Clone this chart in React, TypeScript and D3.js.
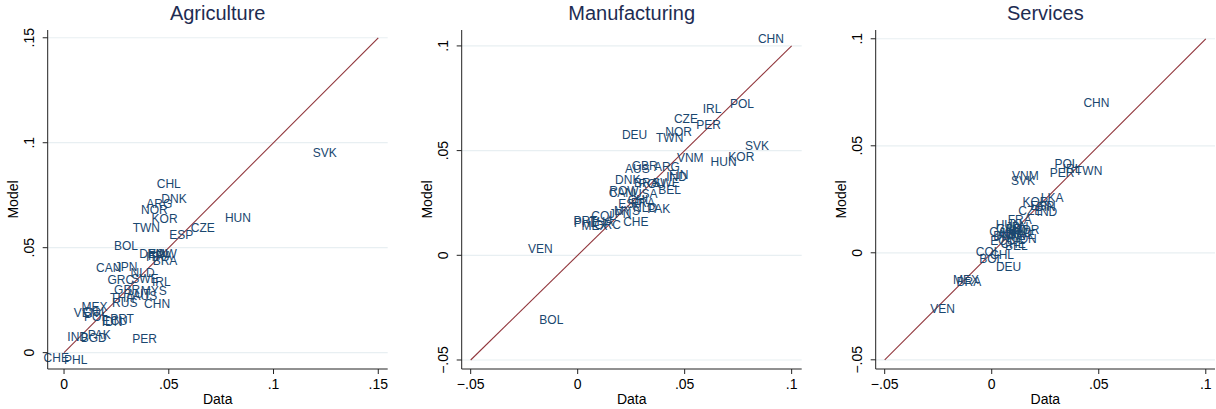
import React from "react";
import * as d3 from "d3";

// [country, data, model]
const agriculture: [string, number, number][] = [
  ["SVK", 0.1244, 0.0952],
  ["CHL", 0.05, 0.0802],
  ["DNK", 0.0525, 0.0733],
  ["ARG", 0.0455, 0.0707],
  ["NOR", 0.0431, 0.068],
  ["KOR", 0.048, 0.0635],
  ["TWN", 0.0393, 0.0595],
  ["HUN", 0.083, 0.0643],
  ["CZE", 0.0662, 0.0594],
  ["ESP", 0.056, 0.0562],
  ["BOL", 0.0296, 0.051],
  ["DEU", 0.042, 0.047],
  ["FIN", 0.0448, 0.0468],
  ["FRA", 0.0458, 0.0462],
  ["ROW", 0.0468, 0.047],
  ["ITA", 0.0434, 0.0455],
  ["BRA", 0.0482, 0.0438],
  ["CAN", 0.0213, 0.0405],
  ["JPN", 0.0296, 0.041],
  ["NLD", 0.0375, 0.0381],
  ["GRC", 0.0271, 0.0346],
  ["SWE", 0.0386, 0.035],
  ["IRL", 0.0464, 0.0338],
  ["GBR", 0.0301, 0.0299],
  ["MYS", 0.0428, 0.0294],
  ["AUT", 0.0356, 0.0278],
  ["AUS", 0.0386, 0.027],
  ["THA", 0.0277, 0.0262],
  ["RUS", 0.029, 0.0238],
  ["CHN", 0.0444, 0.023],
  ["MEX", 0.0146, 0.0219],
  ["VEN", 0.0105, 0.019],
  ["COL", 0.0149, 0.0195],
  ["POL", 0.0153, 0.0171],
  ["IDN", 0.0229, 0.0148],
  ["PRT", 0.0277, 0.0159],
  ["ECU", 0.0243, 0.015],
  ["IND", 0.0065, 0.0076],
  ["PAK", 0.0168, 0.0083],
  ["BGD", 0.0142, 0.0069],
  ["PER", 0.0385, 0.0067],
  ["CHE", -0.0037, -0.0027],
  ["PHL", 0.0056, -0.0035],
];

const manufacturing: [string, number, number][] = [
  ["CHN", 0.0903, 0.1033],
  ["POL", 0.0768, 0.0723],
  ["IRL", 0.0628, 0.07],
  ["CZE", 0.0506, 0.065],
  ["PER", 0.0612, 0.0622],
  ["NOR", 0.0472, 0.059],
  ["TWN", 0.043, 0.0559],
  ["DEU", 0.0266, 0.0574],
  ["SVK", 0.0838, 0.0523],
  ["KOR", 0.0765, 0.0471],
  ["HUN", 0.0682, 0.0444],
  ["VNM", 0.0526, 0.0466],
  ["ARG", 0.0417, 0.0423],
  ["GBR", 0.0313, 0.0428],
  ["AUS", 0.0279, 0.0411],
  ["FIN", 0.0472, 0.0383],
  ["IND", 0.0462, 0.0372],
  ["SWE", 0.0413, 0.0347],
  ["DNK", 0.0234, 0.036],
  ["BRA", 0.0321, 0.0347],
  ["ROU", 0.0347, 0.034],
  ["CAN", 0.0204, 0.0296],
  ["ROW", 0.0216, 0.0308],
  ["USA", 0.0316, 0.0293],
  ["BEL", 0.043, 0.0312],
  ["CHL", 0.029, 0.0264],
  ["FRA", 0.0305, 0.025],
  ["ESP", 0.0246, 0.0245],
  ["PAK", 0.0379, 0.0221],
  ["NLD", 0.0315, 0.0228],
  ["MYS", 0.023, 0.0212],
  ["JPN", 0.0198, 0.0195],
  ["COL", 0.0121, 0.0188],
  ["THA", 0.011, 0.0158],
  ["GRC", 0.014, 0.0145],
  ["MEX", 0.0079, 0.014],
  ["PRT", 0.0036, 0.0164],
  ["PHL", 0.0036, 0.0153],
  ["CHE", 0.0272, 0.016],
  ["VEN", -0.0175, 0.0029],
  ["BOL", -0.0123, -0.0309],
];

const services: [string, number, number][] = [
  ["CHN", 0.0489, 0.0701],
  ["POL", 0.0349, 0.0413],
  ["IRL", 0.0375, 0.039],
  ["TWN", 0.0453, 0.0382],
  ["PER", 0.0329, 0.0371],
  ["VNM", 0.0157, 0.036],
  ["SVK", 0.0146, 0.0335],
  ["LKA", 0.0282, 0.0257],
  ["KOR", 0.0204, 0.0236],
  ["ESP", 0.0236, 0.022],
  ["FIN", 0.0254, 0.0215],
  ["CZE", 0.018, 0.0196],
  ["IND", 0.0258, 0.0189],
  ["FRA", 0.0131, 0.0153],
  ["HUN", 0.0079, 0.0129],
  ["JPN", 0.0118, 0.0122],
  ["GBR", 0.0081, 0.0111],
  ["AUT", 0.0113, 0.0107],
  ["NOR", 0.0161, 0.0105],
  ["CAN", 0.0048, 0.0095],
  ["NLD", 0.0132, 0.0092],
  ["USA", 0.0094, 0.0087],
  ["AUS", 0.0085, 0.0085],
  ["SWE", 0.014, 0.0082],
  ["DNK", 0.0066, 0.0078],
  ["ITA", 0.0061, 0.0072],
  ["IDN", 0.0162, 0.0064],
  ["ECU", 0.0052, 0.0055],
  ["CHE", 0.01, 0.004],
  ["BEL", 0.0115, 0.0033],
  ["COL", -0.0017, 0.0005],
  ["CHL", 0.0048, -0.0011],
  ["BOL", -0.0002, -0.003],
  ["DEU", 0.0079, -0.0065],
  ["MEX", -0.012, -0.0128],
  ["BRA", -0.0107, -0.0138],
  ["VEN", -0.0229, -0.0263],
];

const agriTicks = [0, 0.05, 0.1, 0.15];
const mfgTicks = [-0.05, 0, 0.05, 0.1];
const svcTicks = [-0.05, 0, 0.05, 0.1];

const agriLine = [0, 0.15];
const mfgLine = [-0.05, 0.1];
const svcLine = [-0.05, 0.1];

const FONT = "'Liberation Sans', Arial, sans-serif";
const labelColor = "#1a476f";
const fitColor = "#90353b";
const gridColor = "#e8eff2";

const fmt = (v: number) => {
  if (v === 0) return "0";
  const s = String(+v.toFixed(3)).replace("0.", ".");
  return s.replace("-", "\u2212");
};

const panels = [
  {
    title: "Agriculture",
    data: agriculture,
    ticks: agriTicks,
    line: agriLine,
    left: 47.7,
    right: 387.7,
    xDomain: [-0.0078, 0.1545],
    yDomain: [-0.0078, 0.1537],
  },
  {
    title: "Manufacturing",
    data: manufacturing,
    ticks: mfgTicks,
    line: mfgLine,
    left: 461.7,
    right: 801.7,
    xDomain: [-0.0542, 0.1047],
    yDomain: [-0.0543, 0.1076],
  },
  {
    title: "Services",
    data: services,
    ticks: svcTicks,
    line: svcLine,
    left: 875.7,
    right: 1215,
    xDomain: [-0.0542, 0.1043],
    yDomain: [-0.0543, 0.1041],
  },
];

const top = 30;
const bottom = 369;

const Panel = ({ p }) => {
  const x = d3.scaleLinear().domain(p.xDomain).range([p.left, p.right]);
  const y = d3.scaleLinear().domain(p.yDomain).range([bottom, top]);
  const cx = (p.left + p.right) / 2;
  const cy = (top + bottom) / 2;

  return (
    <g fontFamily={FONT}>
      <text x={cx} y={20} textAnchor="middle" fontSize={20} fill="#1e2c52">
        {p.title}
      </text>

      {/* grid */}
      {p.ticks.map((t) => (
        <line
          key={"g" + t}
          x1={p.left}
          x2={p.right}
          y1={y(t)}
          y2={y(t)}
          stroke={gridColor}
          strokeWidth={1.2}
        />
      ))}

      {/* 45 degree line */}
      <line
        x1={x(p.line[0])}
        y1={y(p.line[0])}
        x2={x(p.line[1])}
        y2={y(p.line[1])}
        stroke={fitColor}
        strokeWidth={1.1}
      />

      {/* labels */}
      {p.data.map(([c, dx, my], i) => (
        <text
          key={i}
          x={x(dx)}
          y={y(my)}
          textAnchor="middle"
          dominantBaseline="central"
          fontSize={12}
          fill={labelColor}
        >
          {c}
        </text>
      ))}

      {/* axes */}
      <line x1={p.left} x2={p.left} y1={top} y2={bottom} stroke="#222" strokeWidth={1} />
      <line x1={p.left} x2={p.right} y1={bottom} y2={bottom} stroke="#222" strokeWidth={1} />

      {p.ticks.map((t) => (
        <g key={"y" + t}>
          <line x1={p.left - 5} x2={p.left} y1={y(t)} y2={y(t)} stroke="#222" />
          <text
            transform={`translate(${p.left - 14},${y(t)}) rotate(-90)`}
            textAnchor="middle"
            fontSize={14}
            fill="#000"
          >
            {fmt(t)}
          </text>
        </g>
      ))}
      {p.ticks.map((t) => (
        <g key={"x" + t}>
          <line x1={x(t)} x2={x(t)} y1={bottom} y2={bottom + 5} stroke="#222" />
          <text x={x(t)} y={bottom + 20} textAnchor="middle" fontSize={14} fill="#000">
            {fmt(t)}
          </text>
        </g>
      ))}

      <text x={cx} y={404} textAnchor="middle" fontSize={14} fill="#000">
        Data
      </text>
      <text
        transform={`translate(${p.left - 30},${cy}) rotate(-90)`}
        textAnchor="middle"
        fontSize={14}
        fill="#000"
      >
        Model
      </text>
    </g>
  );
};

export default function App() {
  return (
    <svg
      width={1216}
      height={409}
      style={{ position: "absolute", left: 0, top: 0, background: "#fff" }}
    >
      <rect width={1216} height={409} fill="#fff" />
      {panels.map((p) => (
        <Panel key={p.title} p={p} />
      ))}
    </svg>
  );
}
